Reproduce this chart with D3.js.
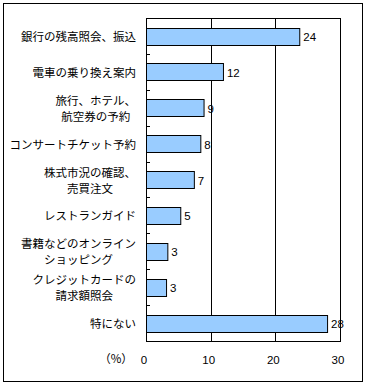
<!DOCTYPE html>
<html><head><meta charset="utf-8">
<script src="https://cdn.jsdelivr.net/npm/d3@7"></script>
<style>
html,body{margin:0;padding:0;background:#fff;}
svg{display:block;}
</style></head>
<body>
<script>
const categories = [
  ["銀行の残高照会、振込"],
  ["電車の乗り換え案内"],
  ["旅行、ホテル、", "航空券の予約"],
  ["コンサートチケット予約"],
  ["株式市況の確認、", "売買注文"],
  ["レストランガイド"],
  ["書籍などのオンライン", "ショッピング"],
  ["クレジットカードの", "請求額照会"],
  ["特にない"]
];
const values = [23.7, 11.9, 8.9, 8.4, 7.4, 5.3, 3.3, 3.1, 28.0];
const valueLabels = ["24", "12", "9", "8", "7", "5", "3", "3", "28"];
const xTicks = [0, 10, 20, 30];
const unitLabel = "（%）";

(function () {
const W = 369, H = 388;
const svg = d3.select("body").append("svg").attr("width", W).attr("height", H);

// outer frame
svg.append("rect").attr("x", 3.5).attr("y", 3.5).attr("width", 359).attr("height", 378)
  .attr("fill", "#fff").attr("stroke", "#000").attr("stroke-width", 1);

const pL = 146, pR = 340, pT = 18, pB = 341;
const x = d3.scaleLinear().domain([0, 30]).range([pL, pR]);
const y = d3.scaleBand().domain(d3.range(categories.length)).range([pT, pB]).paddingInner(0.53).paddingOuter(0.265);
const yb = d3.scaleBand().domain(d3.range(categories.length)).range([pT, pB]);

const g = svg.append("g");

// plot frame
g.append("rect").attr("x", pL + 0.5).attr("y", pT + 0.5)
  .attr("width", pR - pL).attr("height", pB - pT)
  .attr("fill", "none").attr("stroke", "#000");

// gridlines
g.selectAll("line.grid").data(xTicks.slice(1)).join("line")
  .attr("class", "grid")
  .attr("x1", d => Math.round(x(d)) + 0.5).attr("x2", d => Math.round(x(d)) + 0.5)
  .attr("y1", pT).attr("y2", pB)
  .attr("stroke", "#000");

// left ticks (inward, at band boundaries)
g.selectAll("line.ytick").data(d3.range(1, categories.length)).join("line")
  .attr("class", "ytick")
  .attr("x1", pL).attr("x2", pL + 4)
  .attr("y1", d => Math.round(yb(d)) + 0.5).attr("y2", d => Math.round(yb(d)) + 0.5)
  .attr("stroke", "#000");

// bars
g.selectAll("rect.bar").data(values).join("rect")
  .attr("class", "bar")
  .attr("x", pL + 0.5)
  .attr("y", (d, i) => Math.round(y(i)) + 0.5)
  .attr("width", d => x(d) - pL)
  .attr("height", Math.round(y.bandwidth()))
  .attr("fill", "#99ccff").attr("stroke", "#000").attr("stroke-width", 1);

// value labels
g.selectAll("text.val").data(values).join("text")
  .attr("class", "val")
  .attr("x", d => x(d) + 4)
  .attr("y", (d, i) => y(i) + y.bandwidth() / 2 + 1)
  .attr("dy", "0.35em")
  .attr("font-family", "Liberation Sans, Arial, sans-serif")
  .attr("font-size", 11.5)
  .text((d, i) => valueLabels[i]);

// category labels
const labelRight = 136;
categories.forEach((lines, i) => {
  const cy = yb(i) + yb.bandwidth() / 2 + 1;
  const grp = g.append("g");
  const texts = lines.map((s, k) => grp.append("text")
    .attr("y", cy + (k - (lines.length - 1) / 2) * 16)
    .attr("dy", "0.35em")
    .attr("text-anchor", "middle")
    .attr("font-family", "'Noto Sans CJK JP', sans-serif")
    .attr("font-size", 11.5)
    .text(s));
  const maxW = d3.max(texts, t => t.node().getComputedTextLength());
  texts.forEach(t => t.attr("x", labelRight - maxW / 2));
});

// x tick labels
g.selectAll("text.xt").data(xTicks).join("text")
  .attr("class", "xt")
  .attr("x", d => x(d) - 2)
  .attr("y", 360)
  .attr("dy", "0.35em")
  .attr("text-anchor", "middle")
  .attr("font-family", "Liberation Sans, Arial, sans-serif")
  .attr("font-size", 11.5)
  .text(d => d);

g.append("text")
  .attr("x", 116).attr("y", 359).attr("dy", "0.35em")
  .attr("text-anchor", "middle")
  .attr("font-family", "'Noto Sans CJK JP', sans-serif")
  .attr("font-size", 11.5)
  .text(unitLabel);
})();
</script>
</body></html>
